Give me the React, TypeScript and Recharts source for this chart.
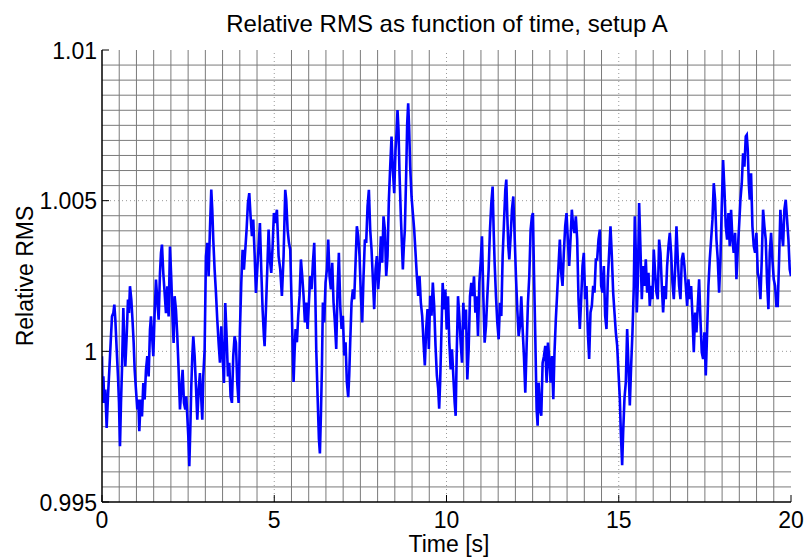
import React from "react";
import { LineChart, Line, XAxis, YAxis, ReferenceLine } from "recharts";

// ---- data (time [s], relative RMS) ----
const seg0to5: [number, number][] = [
  [0,0.99984],[0.019,0.99829],[0.039,0.99917],[0.068,0.99829],[0.097,0.99873],[0.135,0.99746],[0.174,0.99851],[0.213,0.99939],[0.251,1.00028],[0.29,1.00116],[0.329,1.00127],[0.358,1.00155],[0.387,1.00105],[0.426,1.00006],[0.464,0.99917],[0.493,0.99829],[0.522,0.99685],[0.551,0.99829],[0.58,0.99939],[0.619,1.00144],[0.648,1.00028],[0.677,0.9995],[0.716,1.0005],[0.754,1.00172],[0.783,1.00127],[0.812,1.00216],[0.851,1.00172],[0.89,1.00094],[0.919,1.00028],[0.948,0.99939],[0.986,0.99873],[1.025,0.99807],[1.054,0.9984],[1.083,0.99735],[1.122,0.9984],[1.161,0.99784],[1.199,0.99895],[1.238,0.9984],[1.277,0.99939],[1.315,0.99984],[1.354,0.99917],[1.393,1.00072],[1.422,1.00116],[1.46,1.00039],[1.489,0.99984],[1.528,1.00127],[1.567,1.00238],[1.605,1.00172],[1.644,1.00105],[1.683,1.0026],[1.712,1.00326],[1.741,1.00354],[1.779,1.0026],[1.818,1.00194],[1.857,1.00127],[1.896,1.00216],[1.934,1.00116],[1.973,1.00348],[2.012,1.00238],[2.05,1.00105],[2.079,1.00028],[2.108,1.00183],[2.147,1.00138],[2.186,1.0005],[2.224,0.99939],[2.263,0.99807],[2.302,0.99873],[2.34,0.99939],[2.379,0.99829],[2.418,0.99807],[2.447,0.99851],[2.476,0.99784],[2.505,0.99718],[2.534,0.99619],[2.563,0.9974],[2.592,0.99884],[2.621,0.99984],[2.65,1.0005],[2.689,0.99984],[2.727,0.99884],[2.766,0.99773],[2.805,0.99873],[2.843,0.99928],[2.882,0.9984],[2.911,0.99773],[2.94,0.99917],[2.979,1.00006],[3.017,1.00315],[3.056,1.0036],[3.095,1.00249],[3.133,1.00404],[3.172,1.00537],[3.201,1.0047],[3.23,1.00371],[3.269,1.00271],[3.308,1.00194],[3.346,1.00105],[3.385,1.00028],[3.424,0.99962],[3.462,1.00083],[3.501,0.99984],[3.54,0.99895],[3.578,1.0016],[3.617,1.0005],[3.656,0.99917],[3.694,0.99962],[3.733,0.99851],[3.772,0.99829],[3.81,0.99984],[3.849,1.0005],[3.888,1.00028],[3.926,0.99895],[3.965,0.99829],[4.004,1.00072],[4.043,1.00227],[4.081,1.00337],[4.12,1.00271],[4.159,1.00337],[4.197,1.00404],[4.236,1.00492],[4.275,1.00525],[4.313,1.00448],[4.352,1.00382],[4.391,1.00437],[4.429,1.00326],[4.468,1.00194],[4.507,1.00271],[4.545,1.00348],[4.584,1.00426],[4.623,1.00271],[4.662,1.00138],[4.7,1.0005],[4.72,1.00017],[4.758,1.00138],[4.797,1.00271],[4.836,1.00404],[4.874,1.00304],[4.913,1.0026],[4.952,1.00348],[4.99,1.00459],
];

const seg5to10: [number, number][] = [
  [5.029,1.00426],[5.077,1.0047],[5.126,1.00316],[5.174,1.00272],[5.222,1.00184],[5.271,1.00316],[5.319,1.00536],[5.348,1.00503],[5.387,1.00404],[5.426,1.0036],[5.464,1.00338],[5.503,1.00162],[5.532,1.0003],[5.561,0.99898],[5.59,0.99997],[5.619,1.00074],[5.658,1.0003],[5.696,1.00118],[5.735,1.00184],[5.774,1.00305],[5.812,1.0025],[5.851,1.00184],[5.89,1.00096],[5.928,1.00162],[5.967,1.00074],[6.006,1.00162],[6.044,1.0025],[6.083,1.00206],[6.122,1.00294],[6.161,1.0036],[6.19,1.00206],[6.219,1.00008],[6.257,0.99854],[6.296,0.9971],[6.325,0.99661],[6.354,0.99787],[6.383,0.99942],[6.412,1.00162],[6.451,1.00096],[6.489,1.00228],[6.528,1.00272],[6.567,1.00371],[6.605,1.0025],[6.644,1.00206],[6.683,1.00294],[6.721,1.00162],[6.76,1.00096],[6.799,1.00008],[6.838,1.00206],[6.876,1.00327],[6.915,1.00151],[6.954,1.00074],[6.992,1.00118],[7.031,0.99986],[7.07,1.0003],[7.108,0.99898],[7.147,0.99848],[7.176,0.9992],[7.205,1.0003],[7.244,1.00162],[7.282,1.00206],[7.321,1.00173],[7.36,1.00294],[7.398,1.00415],[7.437,1.00382],[7.476,1.00316],[7.515,1.00184],[7.553,1.00096],[7.592,1.0025],[7.631,1.00371],[7.669,1.0036],[7.708,1.00481],[7.747,1.00536],[7.785,1.00404],[7.824,1.00338],[7.863,1.00239],[7.901,1.0014],[7.94,1.00272],[7.979,1.00316],[8.017,1.00206],[8.056,1.00272],[8.095,1.00382],[8.133,1.00294],[8.172,1.00448],[8.211,1.00404],[8.25,1.0025],[8.288,1.00316],[8.327,1.00503],[8.366,1.00613],[8.404,1.00713],[8.443,1.00602],[8.482,1.00525],[8.52,1.00669],[8.549,1.00724],[8.578,1.00801],[8.607,1.00735],[8.636,1.00591],[8.675,1.00448],[8.704,1.0036],[8.733,1.00272],[8.762,1.00349],[8.791,1.00404],[8.83,1.00591],[8.859,1.00757],[8.888,1.00823],[8.917,1.00735],[8.946,1.00613],[8.985,1.00514],[9.023,1.00459],[9.062,1.00404],[9.101,1.00327],[9.139,1.0025],[9.178,1.00184],[9.217,1.0025],[9.255,1.00162],[9.294,1.00118],[9.333,1.0003],[9.371,0.99953],[9.41,1.00074],[9.449,1.0014],[9.487,1.00008],[9.526,1.00184],[9.565,1.00118],[9.603,1.00228],[9.642,1.00151],[9.681,1.00019],[9.72,0.9992],[9.758,0.99876],[9.787,0.9981],[9.816,0.99898],[9.86,1.00095],[9.889,1.00227],[9.927,1.00139],[9.966,1.00205],
];

const seg10to15: [number, number][] = [
  [10.005,1.00073],[10.044,1.00183],[10.082,1.00029],[10.121,0.9994],[10.16,1.00007],[10.198,0.99918],[10.237,0.9983],[10.266,0.99786],[10.295,0.99984],[10.334,1.00183],[10.372,1.00117],[10.411,1.00029],[10.45,0.99962],[10.488,1.00161],[10.527,1.00073],[10.566,1.00139],[10.604,0.99907],[10.643,1.00007],[10.682,1.00183],[10.72,1.00227],[10.759,1.00183],[10.798,1.00249],[10.837,1.00128],[10.875,1.00183],[10.914,1.00051],[10.953,1.00227],[10.991,1.00294],[11.03,1.00382],[11.069,1.00183],[11.107,1.00029],[11.146,1.00084],[11.185,1.00183],[11.223,1.00271],[11.262,1.00404],[11.301,1.00492],[11.339,1.00547],[11.368,1.00404],[11.397,1.00294],[11.436,1.00183],[11.475,1.00095],[11.514,1.0004],[11.552,1.00161],[11.591,1.00117],[11.63,1.00316],[11.668,1.00426],[11.707,1.00536],[11.736,1.0057],[11.765,1.00448],[11.794,1.00349],[11.823,1.00305],[11.862,1.00382],[11.9,1.0047],[11.939,1.00514],[11.978,1.00382],[12.016,1.00249],[12.055,1.00139],[12.094,1.00051],[12.132,1.00084],[12.171,1.00183],[12.21,1.00073],[12.248,0.99984],[12.287,0.99863],[12.326,1.00018],[12.364,1.00161],[12.403,1.00249],[12.442,1.00404],[12.48,1.00448],[12.509,1.00459],[12.538,1.00271],[12.577,1.00051],[12.616,0.99808],[12.645,0.99753],[12.674,0.99896],[12.713,0.99808],[12.751,0.99786],[12.79,0.99962],[12.829,0.99984],[12.867,1.00018],[12.906,0.99896],[12.945,1.00029],[12.984,0.99973],[13.022,0.99896],[13.061,0.99984],[13.1,0.99841],[13.135,0.99997],[13.174,1.00107],[13.213,1.00195],[13.251,1.00283],[13.29,1.00371],[13.329,1.00261],[13.368,1.00217],[13.406,1.00327],[13.445,1.00415],[13.484,1.00459],[13.522,1.00371],[13.561,1.00283],[13.6,1.00371],[13.638,1.0047],[13.677,1.00415],[13.716,1.00393],[13.754,1.00448],[13.793,1.00371],[13.832,1.00173],[13.87,1.00074],[13.909,1.00173],[13.948,1.00283],[13.986,1.00327],[14.025,1.00173],[14.064,1.00217],[14.103,1.00063],[14.141,0.99975],[14.18,1.00129],[14.219,1.00151],[14.257,1.00217],[14.296,1.00195],[14.335,1.00305],[14.373,1.00305],[14.412,1.00371],[14.451,1.00404],[14.489,1.00217],[14.528,1.00195],[14.567,1.00283],[14.605,1.00118],[14.644,1.00074],[14.683,1.00239],[14.721,1.00327],[14.76,1.00415],[14.799,1.00316],[14.838,1.00195],[14.876,1.00129],[14.915,1.00063],[14.954,1.00019],[14.992,0.99931],
];

const seg15to20: [number, number][] = [
  [15.031,0.99843],[15.06,0.99732],[15.099,0.99622],[15.128,0.99732],[15.166,0.99843],[15.205,0.99898],[15.244,1.00074],[15.282,0.99953],[15.321,0.9982],[15.36,0.99953],[15.398,1.00063],[15.437,1.00217],[15.466,1.00448],[15.495,1.00327],[15.524,1.00129],[15.553,1.00228],[15.592,1.00492],[15.631,1.00338],[15.669,1.00173],[15.708,1.00283],[15.747,1.00217],[15.785,1.00305],[15.824,1.00195],[15.863,1.00261],[15.901,1.00151],[15.94,1.00217],[15.979,1.00173],[16.017,1.00338],[16.056,1.00261],[16.095,1.00195],[16.133,1.00173],[16.172,1.00371],[16.211,1.00327],[16.25,1.00217],[16.288,1.00129],[16.327,1.00217],[16.366,1.00173],[16.404,1.00283],[16.443,1.00349],[16.482,1.00393],[16.52,1.00327],[16.559,1.00228],[16.598,1.00173],[16.636,1.00272],[16.675,1.00415],[16.714,1.00305],[16.752,1.00217],[16.791,1.00173],[16.83,1.00305],[16.868,1.00327],[16.907,1.00283],[16.946,1.00217],[16.985,1.00151],[17.023,1.00239],[17.062,1.00173],[17.101,1.00217],[17.139,1.00118],[17.178,0.99997],[17.217,1.00129],[17.255,1.00063],[17.294,1.00151],[17.333,1.00239],[17.371,1.00107],[17.41,0.99997],[17.449,0.99975],[17.487,1.00063],[17.526,0.9992],[17.565,1.00063],[17.603,1.00217],[17.642,1.00305],[17.681,1.00371],[17.72,1.00437],[17.758,1.00558],[17.797,1.00503],[17.836,1.00371],[17.874,1.00305],[17.913,1.00195],[17.952,1.00305],[17.99,1.00481],[18.029,1.00635],[18.068,1.00536],[18.106,1.00415],[18.145,1.00371],[18.184,1.00459],[18.222,1.00349],[18.261,1.0047],[18.3,1.00371],[18.337,1.00327],[18.377,1.00393],[18.416,1.00239],[18.455,1.00338],[18.493,1.00415],[18.532,1.00503],[18.571,1.00558],[18.609,1.00657],[18.648,1.00613],[18.687,1.00713],[18.716,1.00718],[18.745,1.00669],[18.774,1.00558],[18.803,1.00503],[18.841,1.00591],[18.88,1.00415],[18.919,1.00349],[18.957,1.00327],[18.996,1.00393],[19.035,1.00261],[19.073,1.00239],[19.112,1.00173],[19.151,1.00305],[19.19,1.0047],[19.228,1.00415],[19.267,1.00371],[19.306,1.00228],[19.344,1.0014],[19.383,1.00327],[19.422,1.00393],[19.46,1.00305],[19.499,1.00239],[19.538,1.00217],[19.576,1.00151],[19.615,1.00151],[19.654,1.00305],[19.692,1.0047],[19.731,1.00393],[19.77,1.00349],[19.808,1.0047],[19.847,1.00503],[19.886,1.00437],[19.925,1.00371],[19.963,1.00272],[20,1.0025],
];

const xTicks = [0, 5, 10, 15, 20];
const yTicks = [0.995, 1, 1.005, 1.01];
const xMinor = [0.5,1,1.5,2,2.5,3,3.5,4,4.5,5.5,6,6.5,7,7.5,8,8.5,9,9.5,10.5,11,11.5,12,12.5,13,13.5,14,14.5,15.5,16,16.5,17,17.5,18,18.5,19,19.5];
const yMinor = [0.9955,0.996,0.9965,0.997,0.9975,0.998,0.9985,0.999,0.9995,1.0005,1.001,1.0015,1.002,1.0025,1.003,1.0035,1.004,1.0045,1.0055,1.006,1.0065,1.007,1.0075,1.008,1.0085,1.009,1.0095];
const xMajorGrid = [5, 10, 15];
const yMajorGrid = [1, 1.005];

const titleText = "Relative RMS as function of time, setup A";
const xLabelText = "Time [s]";
const yLabelText = "Relative RMS";

const data = [...seg0to5, ...seg5to10, ...seg10to15, ...seg15to20].map(([t, v]) => ({ t, v }));

const FONT = "'Liberation Sans', Arial, Helvetica, sans-serif";
const TICK_LEN = 7;

const BottomTick = (p: any) => (
  <g>
    <line x1={p.x} x2={p.x} y1={p.y} y2={p.y - TICK_LEN} stroke="#000" strokeWidth={1} />
    <text x={p.x} y={p.y + 26} textAnchor="middle" fontSize={23} fontFamily={FONT} fill="#000">
      {String(p.payload.value)}
    </text>
  </g>
);
const LeftTick = (p: any) => (
  <g>
    <line x1={p.x} x2={p.x + TICK_LEN} y1={p.y} y2={p.y} stroke="#000" strokeWidth={1} />
    <text x={p.x - 5} y={p.y + 8.5} textAnchor="end" fontSize={23} fontFamily={FONT} fill="#000">
      {String(p.payload.value)}
    </text>
  </g>
);
const TopTick = (p: any) => (
  <line x1={p.x} x2={p.x} y1={p.y} y2={p.y + TICK_LEN} stroke="#000" strokeWidth={1} />
);
const RightTick = (p: any) => (
  <line x1={p.x} x2={p.x - TICK_LEN} y1={p.y} y2={p.y} stroke="#000" strokeWidth={1} />
);

export default function App() {
  return (
    <div style={{ position: "absolute", left: 0, top: 0, width: 809, height: 560, background: "#fff" }}>
      <LineChart width={809} height={560} data={data} margin={{ top: 50, right: 18, bottom: 0, left: 0 }}>
        <XAxis dataKey="t" type="number" domain={[0, 20]} ticks={xTicks} interval={0} allowDataOverflow
          height={58} tickSize={0} tickMargin={0} tickLine={false} axisLine={{ stroke: "#000", strokeWidth: 1.5 }} tick={<BottomTick />} />
        <XAxis xAxisId="top" orientation="top" dataKey="t" type="number" domain={[0, 20]} ticks={xTicks} interval={0} allowDataOverflow
          height={0} tickSize={0} tickMargin={0} tickLine={false} axisLine={{ stroke: "#000", strokeWidth: 1 }} tick={<TopTick />} />
        <YAxis type="number" domain={[0.995, 1.01]} ticks={yTicks} interval={0} allowDataOverflow
          width={102} tickSize={0} tickMargin={0} tickLine={false} axisLine={{ stroke: "#000", strokeWidth: 1.5 }} tick={<LeftTick />} />
        <YAxis yAxisId="right" orientation="right" type="number" domain={[0.995, 1.01]} ticks={yTicks} interval={0} allowDataOverflow
          width={0} tickSize={0} tickMargin={0} tickLine={false} axisLine={{ stroke: "#000", strokeWidth: 1 }} tick={<RightTick />} />
        {xMinor.map((x) => (
          <ReferenceLine key={"xm" + x} x={x} stroke="#7a7a7a" strokeWidth={1} />
        ))}
        {yMinor.map((y) => (
          <ReferenceLine key={"ym" + y} y={y} stroke="#7a7a7a" strokeWidth={1} />
        ))}
        {xMajorGrid.map((x) => (
          <ReferenceLine key={"xM" + x} x={x} stroke="#999" strokeWidth={1} strokeDasharray="1 3" />
        ))}
        {yMajorGrid.map((y) => (
          <ReferenceLine key={"yM" + y} y={y} stroke="#999" strokeWidth={1} strokeDasharray="1 3" />
        ))}
        <Line dataKey="v" type="linear" stroke="#0000ff" strokeWidth={2.6} strokeLinejoin="miter" dot={false} isAnimationActive={false} />
      </LineChart>
      <svg width={809} height={560} style={{ position: "absolute", left: 0, top: 0, pointerEvents: "none" }}>
        <text x={447} y={31.5} textAnchor="middle" fontSize={24} fontFamily={FONT} fill="#000">{titleText}</text>
        <text x={449} y={551.5} textAnchor="middle" fontSize={23} fontFamily={FONT} fill="#000">{xLabelText}</text>
        <text x={0} y={0} transform="translate(33,276) rotate(-90)" textAnchor="middle" fontSize={23} fontFamily={FONT} fill="#000">{yLabelText}</text>
      </svg>
    </div>
  );
}
